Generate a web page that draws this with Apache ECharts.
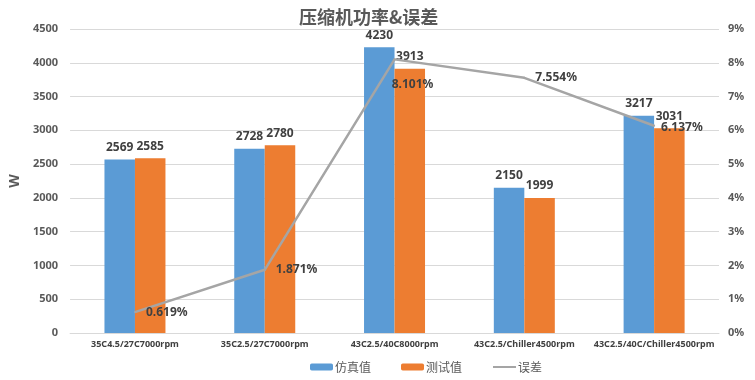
<!DOCTYPE html>
<html>
<head>
<meta charset="utf-8">
<script src="https://cdn.jsdelivr.net/npm/echarts@6/dist/echarts.min.js"></script>
<style>html,body{margin:0;padding:0;background:#fff}#c{width:755px;height:380px}</style>
</head>
<body>
<div id="c"></div>
<script>
const categories = ['35C4.5/27C7000rpm', '35C2.5/27C7000rpm', '43C2.5/40C8000rpm', '43C2.5/Chiller4500rpm', '43C2.5/40C/Chiller4500rpm'];
const simValues = [2569, 2728, 4230, 2150, 3217];
const testValues = [2585, 2780, 3913, 1999, 3031];
const errorValues = [0.619, 1.871, 8.101, 7.554, 6.137];
const leftTicks = [0, 4500, 500];
const rightTicks = [0, 9, 1];
const seriesNames = ['仿真值', '测试值', '误差'];

const FONT = '"Noto Sans", "Noto Sans CJK SC", sans-serif';
const errLabelPos = [
  {position: 'right', distance: 10, offset: [0, 0]},
  {position: 'right', distance: 10, offset: [0, 0]},
  {position: 'bottom', distance: 14, offset: [18, 4]},
  {position: 'right', distance: 10, offset: [0, 0]},
  {position: 'right', distance: 6, offset: [0, 2]}
];

const chart = echarts.init(document.getElementById('c'), null, {renderer: 'canvas'});
chart.setOption({
  animation: false,
  backgroundColor: '#ffffff',
  title: {
    text: '压缩机功率&误差',
    left: 294, top: 3,
    textStyle: {fontFamily: '"Noto Sans CJK SC", sans-serif', fontSize: 18, fontWeight: 'bold', color: '#595959'}
  },
  grid: {left: 65, right: 36, top: 29, bottom: 47},
  legend: {
    data: [
      {name: seriesNames[0]},
      {name: seriesNames[1]},
      {name: seriesNames[2], itemStyle: {opacity: 0}}
    ],
    bottom: 2, left: 305,
    itemWidth: 23, itemHeight: 7, itemGap: 30,
    textStyle: {fontFamily: '"Noto Sans CJK SC", sans-serif', fontSize: 12, color: '#595959', padding: [0, 0, 0, -3]}
  },
  xAxis: {
    type: 'category',
    data: categories,
    axisLine: {lineStyle: {color: '#d9d9d9', width: 1}},
    axisTick: {show: false},
    axisLabel: {fontFamily: FONT, fontSize: 9, fontWeight: 'bold', color: '#404040', margin: 7, interval: 0}
  },
  yAxis: [
    {
      type: 'value', min: leftTicks[0], max: leftTicks[1], interval: leftTicks[2],
      name: 'W', nameLocation: 'middle', nameGap: 48, nameRotate: 90,
      nameTextStyle: {fontFamily: FONT, fontSize: 14, fontWeight: 'bold', color: '#595959'},
      axisLine: {show: false}, axisTick: {show: false},
      splitLine: {lineStyle: {color: '#d9d9d9', width: 1}},
      axisLabel: {fontFamily: FONT, fontSize: 11, fontWeight: 'bold', color: '#595959', margin: 12, formatter: v => String(v)}
    },
    {
      type: 'value', min: rightTicks[0], max: rightTicks[1], interval: rightTicks[2],
      axisLine: {show: false}, axisTick: {show: false},
      splitLine: {show: false},
      axisLabel: {fontFamily: FONT, fontSize: 11, fontWeight: 'bold', color: '#595959', margin: 9, formatter: v => v + '%'}
    }
  ],
  series: [
    {
      name: seriesNames[0], type: 'bar', data: simValues,
      barGap: '0%', barCategoryGap: '53%',
      itemStyle: {color: '#5b9bd5'},
      label: {show: true, position: 'top', distance: 6, fontFamily: FONT, fontSize: 12, fontWeight: 'bold', color: '#404040'}
    },
    {
      name: seriesNames[1], type: 'bar', data: testValues,
      itemStyle: {color: '#ed7d31'},
      label: {show: true, position: 'top', distance: 6, fontFamily: FONT, fontSize: 12, fontWeight: 'bold', color: '#404040'}
    },
    {
      name: seriesNames[2], type: 'line', yAxisIndex: 1,
      data: errorValues.map((v, i) => ({value: v, label: errLabelPos[i]})),
      symbol: 'circle', symbolSize: 2, showSymbol: true, z: 5,
      lineStyle: {color: '#a5a5a5', width: 2.5},
      itemStyle: {color: '#a5a5a5'},
      label: {show: true, fontFamily: FONT, fontSize: 12, fontWeight: 'bold', color: '#404040',
        formatter: p => p.value.toFixed(3) + '%'}
    }
  ]
});
</script>
</body>
</html>
